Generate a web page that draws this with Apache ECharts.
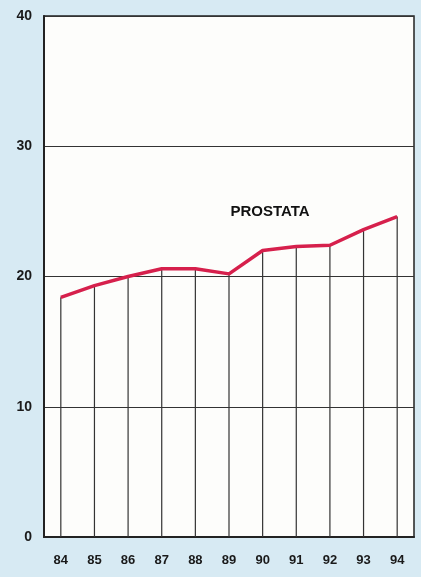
<!DOCTYPE html>
<html>
<head>
<meta charset="utf-8">
<script src="https://cdn.jsdelivr.net/npm/echarts@6/dist/echarts.min.js"></script>
<style>
  html, body { margin: 0; padding: 0; background: #d7eaf3; }
  #chart { width: 421px; height: 577px; }
</style>
</head>
<body>
<div id="chart"></div>
<script>
// years along the bottom, rate per year
var years = ['84', '85', '86', '87', '88', '89', '90', '91', '92', '93', '94']
var prostata = [18.4, 19.3, 20.0, 20.6, 20.6, 20.2, 22.0, 22.3, 22.4, 23.6, 24.6]
var yTicks = [0, 10, 20, 30, 40]

var chart = echarts.init(document.getElementById('chart'))
chart.setOption({
  backgroundColor: '#d7eaf3',
  animation: false,
  grid: {
    left: 44, right: 7, top: 16, bottom: 40,
    show: true, backgroundColor: '#fdfdfb', borderColor: '#222', borderWidth: 1.5
  },
  xAxis: {
    type: 'category', data: years, boundaryGap: true,
    axisLine: { show: true, lineStyle: { color: '#222', width: 2 } },
    axisTick: { show: false },
    splitLine: { show: false },
    axisLabel: {
      margin: 17, color: '#1a1a1a', fontFamily: 'Liberation Sans', fontWeight: 'bold', fontSize: 13
    }
  },
  yAxis: {
    type: 'value', min: 0, max: 40, interval: 10,
    axisLine: { show: true, lineStyle: { color: '#222', width: 2 } },
    axisTick: { show: false },
    splitLine: { show: true, lineStyle: { color: '#333', width: 1 } },
    axisLabel: {
      margin: 12, color: '#1a1a1a', fontFamily: 'Liberation Sans', fontWeight: 'bold', fontSize: 14,
      formatter: function (v) { return yTicks.indexOf(v) >= 0 ? String(v) : '' }
    }
  },
  series: [
    {
      // drop lines from each point down to zero
      type: 'bar', data: prostata, barWidth: 1.2, silent: true,
      itemStyle: { color: '#333' }
    },
    {
      type: 'line', data: prostata, symbol: 'none', z: 5,
      lineStyle: { color: '#d6204c', width: 3.5 },
      markPoint: {
        symbol: 'circle', symbolSize: 0,
        label: {
          show: true, formatter: 'PROSTATA', color: '#111',
          fontFamily: 'Liberation Sans', fontWeight: 'bold', fontSize: 15
        },
        data: [{ coord: ['90', 25.0], x: 270, y: 212 }]
      }
    }
  ]
})
</script>
</body>
</html>
